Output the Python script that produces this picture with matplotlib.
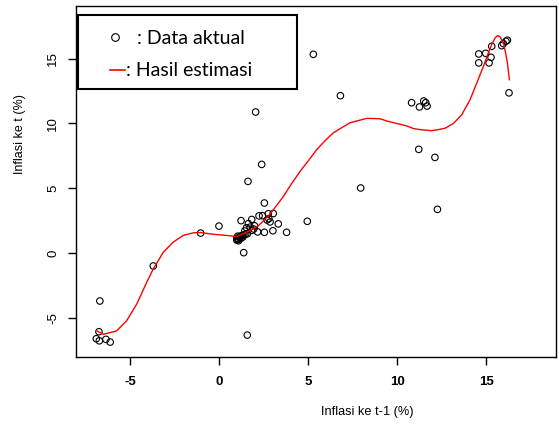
import numpy as np
import matplotlib
matplotlib.use("Agg")
import matplotlib.pyplot as plt
from matplotlib.patches import Rectangle
from matplotlib.lines import Line2D

# data aktual: inflasi t-1 (x) vs inflasi t (y)
inflasi_t1 = [-6.69, -6.74, -6.89, -6.72, -6.35, -6.11,
              -3.69, -1.03, 0.00, 1.39, 1.59, 1.63, 2.06, 2.40, 2.55,
              1.24, 1.84, 2.25, 2.45, 2.77, 3.05, 2.87, 2.70, 2.80, 3.33,
              4.96, 3.80, 3.03, 2.55, 2.17, 1.65, 1.75, 1.55, 1.45, 1.85,
              1.95, 2.00,
              1.00, 1.05, 1.10, 1.15, 1.00, 1.20, 1.30, 1.10, 1.25, 1.40,
              1.35, 1.50, 1.60, 1.05,
              5.30, 6.82, 7.96, 10.82, 11.26, 11.50, 11.61, 11.69, 11.22,
              12.13, 12.27,
              14.59, 14.98, 15.32, 15.28, 14.59, 15.17, 15.88, 15.97, 16.12,
              16.20, 16.29]
inflasi_t = [-3.70, -6.07, -6.61, -6.77, -6.66, -6.87,
             -1.00, 1.54, 2.08, 0.03, -6.33, 5.53, 10.88, 6.84, 3.86,
             2.50, 2.59, 2.87, 2.88, 3.03, 3.05, 2.40, 2.55, 2.65, 2.25,
             2.45, 1.60, 1.72, 1.60, 1.63, 2.27, 2.00, 1.95, 1.70, 1.75,
             1.85, 2.10,
             1.00, 1.10, 1.05, 1.20, 1.15, 1.30, 1.35, 0.95, 1.15, 1.40,
             1.25, 1.45, 1.50, 1.30,
             15.33, 12.14, 5.02, 11.60, 11.27, 11.73, 11.60, 11.34, 8.00,
             7.38, 3.37,
             15.36, 15.41, 15.95, 15.10, 14.67, 14.67, 16.00, 16.16, 16.34,
             16.42, 12.36]

# hasil estimasi (kurva merah)
est_x = [-6.84, -6.50, -5.75, -5.19, -4.62, -4.06, -3.69, -3.13, -2.57,
         -2.01, -1.44, -1.03, -0.32, 0.43, 0.99, 1.46, 2.21, 2.87, 3.61,
         4.08, 4.55, 5.02, 5.49, 5.96, 6.42, 6.89, 7.36, 7.83, 8.30, 8.67,
         9.04, 9.42, 9.98, 10.54, 10.92, 11.29, 11.48, 11.95, 12.23, 12.70,
         13.17, 13.63, 14.10, 14.48, 14.85, 15.13, 15.32, 15.51, 15.66,
         15.79, 15.97, 16.08, 16.20, 16.31]
est_y = [-6.01, -6.27, -6.01, -5.23, -3.94, -2.26, -1.23, 0.06, 0.84,
         1.36, 1.56, 1.58, 1.45, 1.36, 1.28, 1.55, 2.10, 3.00, 4.35,
         5.36, 6.29, 7.12, 7.98, 8.67, 9.27, 9.67, 10.05, 10.22, 10.39,
         10.38, 10.36, 10.19, 10.00, 9.81, 9.61, 9.52, 9.50, 9.44, 9.50,
         9.63, 10.00, 10.66, 11.82, 13.12, 14.40, 15.44, 16.09, 16.60,
         16.78, 16.68, 16.22, 15.57, 14.67, 13.37]

x_ticks = [-5, 0, 5, 10, 15]
y_ticks = [-5, 0, 5, 10, 15]

W, H = 559, 425
fig = plt.figure(figsize=(W / 100, H / 100), dpi=100)
ax = fig.add_axes([76 / W, 1 - 357 / H, 480 / W, 351 / H])

ax.scatter(inflasi_t1, inflasi_t, s=22, facecolors="none",
           edgecolors="black", linewidths=0.8, zorder=2)
ax.plot(est_x, est_y, color="red", lw=1.0, zorder=3)

ax.set_xlim(-8.03, 18.93)
ax.set_ylim(-8.02, 19.06)
ax.set_xticks(x_ticks)
ax.set_yticks(y_ticks)
ax.set_xticklabels([str(v) for v in x_ticks], fontfamily="Liberation Sans",
                   fontsize=9.5, fontweight="bold")
ax.set_yticklabels([str(v) for v in y_ticks], fontfamily="Liberation Sans",
                   fontsize=9.5, rotation=90, va="center")
ax.tick_params(axis="x", direction="out", length=6, width=1, pad=7.5)
ax.tick_params(axis="y", direction="out", length=6, width=1, pad=6)
for sp in ax.spines.values():
    sp.set_linewidth(1)

fig.text(367 / W, 1 - 412 / H, "Inflasi ke t-1 (%)", ha="center", va="center",
         fontfamily="Liberation Sans", fontsize=9.2)
fig.text(20 / W, 1 - 134 / H, "Inflasi ke t (%)", ha="center", va="center",
         rotation=90, fontfamily="Liberation Sans", fontsize=9.0)


def fx(px):
    return px / W


def fy(py):
    return 1 - py / H


# kotak legenda
fig.add_artist(Rectangle((fx(78), fy(89)), (297 - 78) / W, (89 - 15) / H,
                         transform=fig.transFigure, facecolor="white",
                         edgecolor="black", lw=1.5, zorder=10))
fig.add_artist(Line2D([fx(115)], [fy(37)], marker="o", ms=5.5,
                      mfc="none", mec="black", mew=0.8, ls="none",
                      transform=fig.transFigure, zorder=11))
fig.add_artist(Line2D([fx(110), fx(125)], [fy(70), fy(70)], color="red",
                      lw=1.2, transform=fig.transFigure, zorder=11))
fig.text(fx(137), fy(38), ": Data aktual", ha="left", va="center",
         fontfamily="Lato", fontsize=14, zorder=11)
fig.text(fx(126), fy(70), ": Hasil estimasi", ha="left", va="center",
         fontfamily="Lato", fontsize=14, zorder=11)

fig.savefig("out.png", dpi=100)
